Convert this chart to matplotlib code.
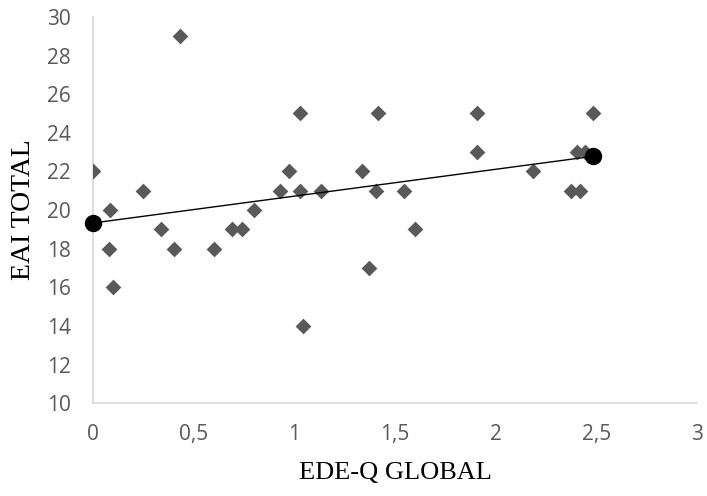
import matplotlib.pyplot as plt

# data
edeq = [0.0, 0.086, 0.08, 0.10, 0.25, 0.34, 0.40, 0.43, 0.60, 0.69, 0.74, 0.80,
        0.93, 0.975, 1.025, 1.025, 1.04, 1.134, 1.335, 1.37, 1.406, 1.414, 1.542,
        1.598, 1.908, 1.908, 2.186, 2.37, 2.40, 2.416, 2.44, 2.48]
eai = [22, 20, 18, 16, 21, 19, 18, 29, 18, 19, 19, 20,
       21, 22, 25, 21, 14, 21, 22, 17, 21, 25, 21,
       19, 25, 23, 22, 21, 23, 21, 23, 25]

# fitted line end points
fit_x = [0.0, 2.48]
fit_y = [19.33, 22.78]

xticks = [0, 0.5, 1, 1.5, 2, 2.5, 3]
xtick_labels = ['0', '0,5', '1', '1,5', '2', '2,5', '3']
yticks = [10, 12, 14, 16, 18, 20, 22, 24, 26, 28, 30]

fig = plt.figure(figsize=(7.07, 4.96), dpi=100)
ax = fig.add_axes([0.1315, 0.187, 0.855, 0.779])

ax.scatter(edeq, eai, marker='D', s=64, color='#595959', linewidths=0, zorder=3)
ax.plot(fit_x, fit_y, color='black', linewidth=1.0, zorder=4)
ax.plot(fit_x, fit_y, linestyle='none', marker='o', markersize=11.5,
        color='black', zorder=5, clip_on=False)

ax.set_xlim(0, 3)
ax.set_ylim(10, 30)
ax.set_xticks(xticks)
ax.set_xticklabels(xtick_labels)
ax.set_yticks(yticks)

for s in ['top', 'right']:
    ax.spines[s].set_visible(False)
for s in ['left', 'bottom']:
    ax.spines[s].set_color('#d9d9d9')
    ax.spines[s].set_linewidth(1.2)

ax.tick_params(length=0, labelsize=15, labelcolor='#595959')
ax.tick_params(axis='x', pad=15)
ax.tick_params(axis='y', pad=16)
for lbl in ax.get_xticklabels() + ax.get_yticklabels():
    lbl.set_family('Open Sans')

ax.set_xlabel('EDE-Q GLOBAL', fontsize=19, family='Liberation Serif', labelpad=12)
ax.set_ylabel('EAI TOTAL', fontsize=20, family='Liberation Serif', labelpad=8)

fig.savefig('out.png', dpi=100)
